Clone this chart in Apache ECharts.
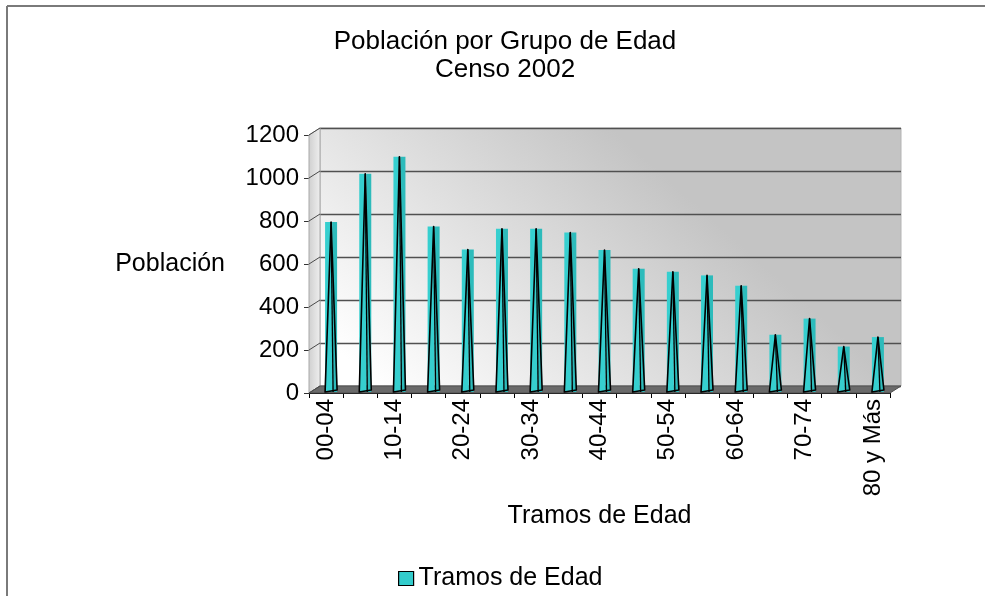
<!DOCTYPE html>
<html>
<head>
<meta charset="utf-8">
<script src="https://cdn.jsdelivr.net/npm/echarts@6/dist/echarts.min.js"></script>
<style>
html,body{margin:0;padding:0;background:#fff;}
#chart{width:985px;height:596px;}
</style>
</head>
<body>
<div id="chart"></div>
<script>
// ---- data ----
var categories = ['00-04','05-09','10-14','15-19','20-24','25-29','30-34','35-39','40-44','45-49','50-54','55-59','60-64','65-69','70-74','75-79','80 y Más'];
var poblacion = [795, 1020, 1099, 774, 667, 764, 764, 746, 665, 578, 564, 547, 499, 271, 346, 216, 260];
var yTicks = [0, 200, 400, 600, 800, 1000, 1200];
var seriesName = 'Tramos de Edad';
var titleText = 'Población por Grupo de Edad\nCenso 2002';
var xName = 'Tramos de Edad';
var yName = 'Población';

// ---- layout (front plane + back wall offset for the 3D look) ----
var L = 309, T = 135, W = 581, H = 258;
var DX = 11, DY = 7;
var FONT = '"Liberation Sans", Arial, sans-serif';

var chart = echarts.init(document.getElementById('chart'), null, {renderer: 'canvas'});

var option = {
  backgroundColor: '#ffffff',
  animation: false,
  title: {
    text: titleText,
    left: 500, top: 23,
    textAlign: 'center',
    textStyle: {fontFamily: FONT, fontSize: 26, fontWeight: 'normal', color: '#000', lineHeight: 28, align: 'center'}
  },
  legend: {
    left: 393, top: 561,
    itemWidth: 15, itemHeight: 14, itemGap: 5,
    textStyle: {fontFamily: FONT, fontSize: 25, color: '#000', padding: [0, 0, 0, 0]},
    data: [{name: seriesName, icon: 'rect', itemStyle: {color: '#33CCCC', borderColor: '#000', borderWidth: 1.2}}]
  },
  grid: [
    {left: L, top: T, width: W, height: H, containLabel: false, show: false},
    {left: L + DX, top: T - DY, width: W, height: H, containLabel: false, show: true,
     borderColor: '#B4B4B4', borderWidth: 1,
     backgroundColor: new echarts.graphic.LinearGradient(0.1, 1, 0.5, 0, [
       {offset: 0, color: '#FFFFFF'}, {offset: 1, color: '#C4C4C4'}])}
  ],
  xAxis: [
    {type: 'category', gridIndex: 0, data: categories, boundaryGap: true,
     axisLine: {show: true, lineStyle: {color: '#000', width: 1}},
     axisTick: {show: true, interval: 0, length: 5, lineStyle: {color: '#000'}},
     axisLabel: {interval: 1, rotate: 90, margin: 6, fontFamily: FONT, fontSize: 24, color: '#000'},
     name: xName, nameLocation: 'middle', nameGap: 111, nameMoveOverlap: false,
     nameTextStyle: {fontFamily: FONT, fontSize: 25, color: '#000'},
     splitLine: {show: false}},
    {type: 'category', gridIndex: 1, data: categories, show: false}
  ],
  yAxis: [
    {type: 'value', gridIndex: 0, min: 0, max: 1200, interval: 200,
     axisLine: {show: true, lineStyle: {color: '#333', width: 1}},
     axisTick: {show: true, length: 5, lineStyle: {color: '#333'}},
     axisLabel: {margin: 10, fontFamily: FONT, fontSize: 24, color: '#000',
                 formatter: function (v) { return String(v); }},
     splitLine: {show: false},
     name: yName, nameLocation: 'middle', nameRotate: 0, nameGap: 84, nameMoveOverlap: false,
     nameTextStyle: {fontFamily: FONT, fontSize: 25, color: '#000'}},
    {type: 'value', gridIndex: 1, min: 0, max: 1200, interval: 200,
     axisLine: {show: false}, axisTick: {show: false}, axisLabel: {show: false},
     splitLine: {show: true, lineStyle: {color: '#505050', width: 1.4}}}
  ],
  series: [{
    name: seriesName,
    type: 'custom',
    xAxisIndex: 0, yAxisIndex: 0,
    z: 5,
    itemStyle: {color: '#33CCCC'},
    data: poblacion,
    renderItem: function (params, api) {
      var top = api.coord([api.value(0), api.value(1)]);
      var base = api.coord([api.value(0), 0]);
      var cx = top[0] + 5, ty = top[1], by = base[1] - 1;
      var hw = 6;
      return {
        type: 'group',
        children: [
          {type: 'rect', shape: {x: cx - hw, y: ty, width: hw + 1, height: by - ty},
           style: {fill: '#36CFCF'}},
          {type: 'rect', shape: {x: cx + 1, y: ty, width: hw - 1, height: by - ty},
           style: {fill: '#2DBBBB'}},
          {type: 'polygon', shape: {points: [[cx - hw, by], [cx, ty], [cx + hw, by - 2]]},
           style: {fill: 'rgba(0,0,0,0)', stroke: '#000', lineWidth: 1.6, lineJoin: 'round'}},
          {type: 'line', shape: {x1: cx, y1: ty, x2: cx + 2, y2: by},
           style: {stroke: '#000', lineWidth: 1.3}}
        ]
      };
    }
  }],
  graphic: []
};

// decoration: side wall, floor, frame
var g = [];
g.push({type: 'polygon', z: 1, silent: true,
  shape: {points: [[L, T + H], [L + DX, T + H - DY], [L + DX, T - DY], [L, T]]},
  style: {fill: new echarts.graphic.LinearGradient(0, 0, 1, 0, [
    {offset: 0, color: '#CFCFCF'}, {offset: 1, color: '#EFEFEF'}]), stroke: '#A8A8A8', lineWidth: 1}});
g.push({type: 'polygon', z: 1, silent: true,
  shape: {points: [[L, T + H], [L + DX, T + H - DY], [L + W + DX, T + H - DY], [L + W, T + H]]},
  style: {fill: '#6A6A6A', stroke: '#505050', lineWidth: 1}});
g.push({type: 'line', z: 10, silent: true, shape: {x1: 7, y1: 6, x2: 7, y2: 596}, style: {stroke: '#7A7A7A', lineWidth: 2}});
g.push({type: 'line', z: 10, silent: true, shape: {x1: 7, y1: 6, x2: 985, y2: 6}, style: {stroke: '#7A7A7A', lineWidth: 2}});
option.graphic = g;

chart.setOption(option);

// side-wall connectors from front ticks to back-wall gridlines
var extra = [];
yTicks.forEach(function (v) {
  var p = chart.convertToPixel({yAxisIndex: 0}, v);
  extra.push({type: 'line', z: 2, silent: true,
    shape: {x1: L, y1: p, x2: L + DX, y2: p - DY},
    style: {stroke: '#4A4A4A', lineWidth: 1}});
});
chart.setOption({graphic: g.concat(extra)});
</script>
</body>
</html>
